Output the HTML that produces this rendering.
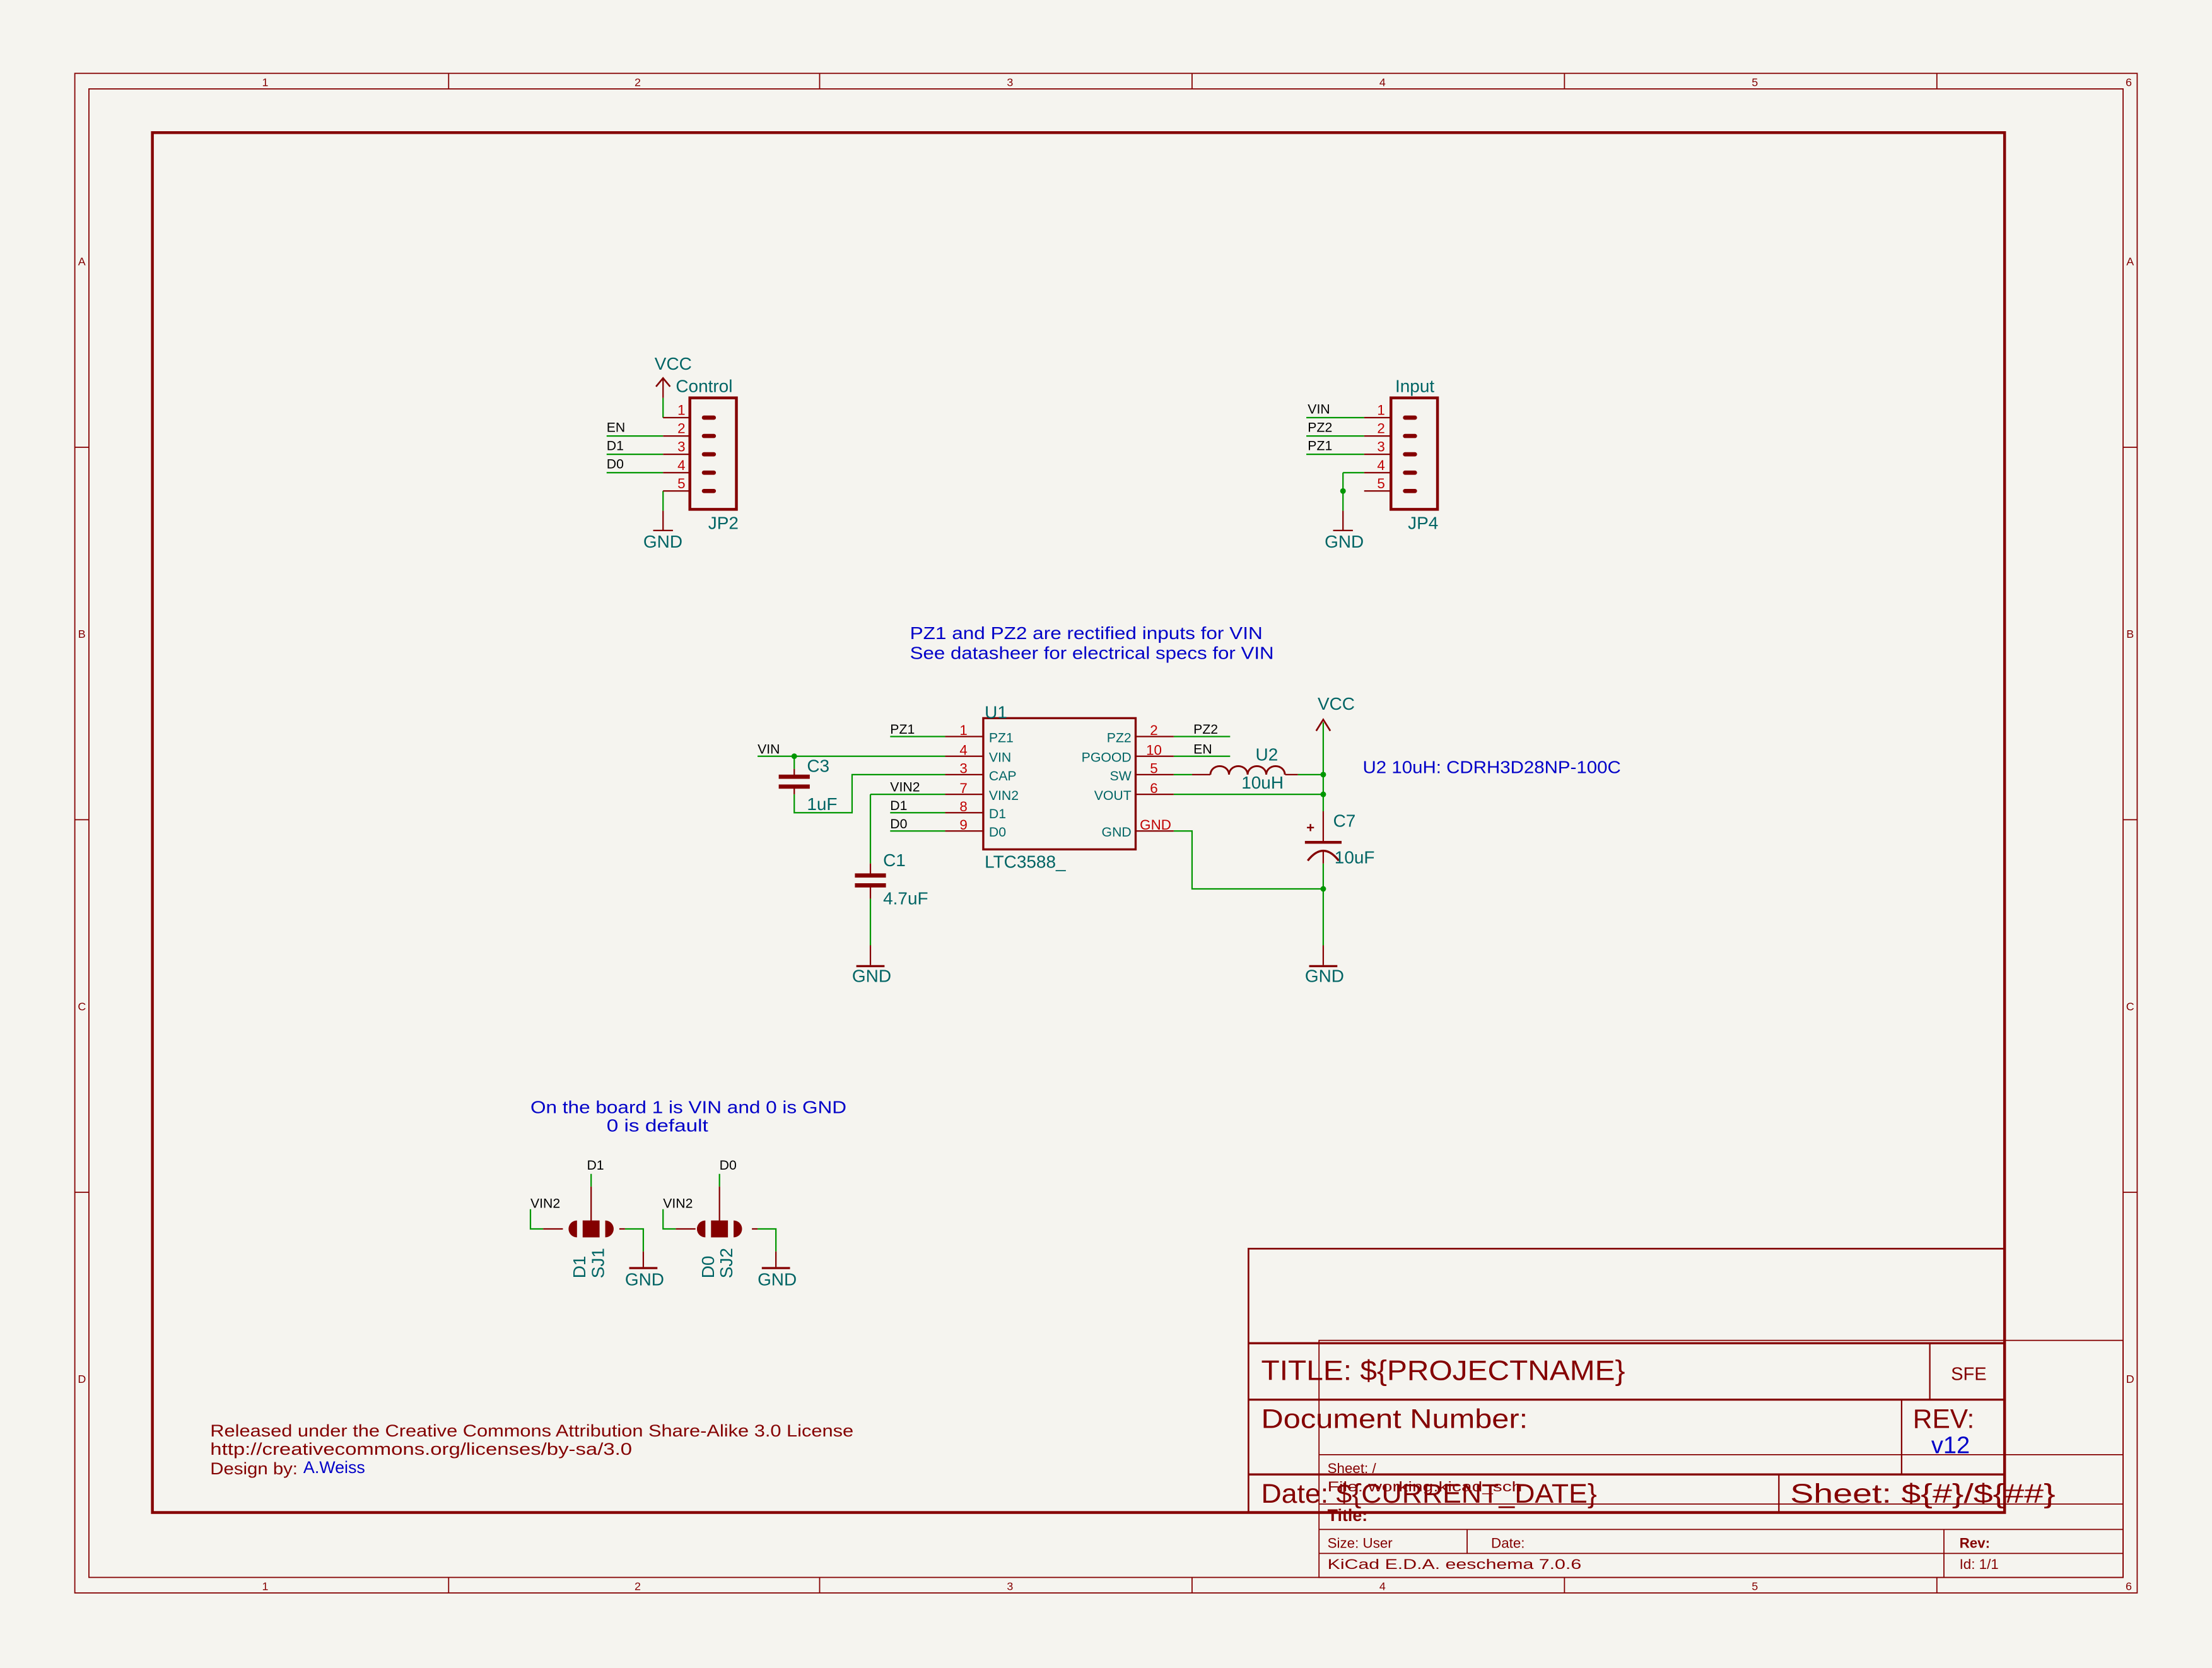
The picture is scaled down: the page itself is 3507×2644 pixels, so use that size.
<!DOCTYPE html>
<html><head><meta charset="utf-8"><style>
html,body{margin:0;padding:0;background:#f5f4ef}
svg{display:block}
text{font-family:"Liberation Sans",sans-serif}
</style></head><body>
<svg width="3507" height="2644" viewBox="0 0 1568 1182.2" xmlns="http://www.w3.org/2000/svg">
<rect width="1568" height="1183" fill="#f5f4ef"/>
<g fill="none" stroke="#840000" stroke-width="0.8">
<rect x="53" y="52" width="1462" height="1077"/>
<rect x="63" y="63" width="1442" height="1055"/>
<path d="M318 52V63M581 52V63M845 52V63M1109 52V63M1373 52V63M318 1118V1129M581 1118V1129M845 1118V1129M1109 1118V1129M1373 1118V1129M53 317H63M53 581H63M53 845H63M1505 317H1515M1505 581H1515M1505 845H1515"/>
</g>
<g fill="#840000" font-size="8" text-anchor="middle">
<text x="188" y="61">1</text><text x="452" y="61">2</text><text x="716" y="61">3</text><text x="980" y="61">4</text><text x="1244" y="61">5</text><text x="1509" y="61">6</text>
<text x="188" y="1127">1</text><text x="452" y="1127">2</text><text x="716" y="1127">3</text><text x="980" y="1127">4</text><text x="1244" y="1127">5</text><text x="1509" y="1127">6</text>
<text x="58" y="188">A</text><text x="58" y="452">B</text><text x="58" y="716">C</text><text x="58" y="980">D</text>
<text x="1510" y="188">A</text><text x="1510" y="452">B</text><text x="1510" y="716">C</text><text x="1510" y="980">D</text>
</g>
<g fill="none" stroke="#840000">
<rect x="108" y="94" width="1313" height="978" stroke-width="2"/>
<rect x="885" y="885" width="536" height="187" stroke-width="1.2"/>
<path d="M885 952H1421M885 992H1421M885 1045H1421" stroke-width="1.5"/>
<path d="M1368 952V992M1348 992V1045M1261 1045V1072" stroke-width="1"/>
<g stroke-width="0.8">
<rect x="935" y="950" width="570" height="168"/>
<path d="M935 1031H1505M935 1066H1505M935 1084H1505M935 1101H1505M1378 1084V1118M1040 1084V1101"/>
</g>
</g>
<g fill="#840000">
<text x="894" y="978" font-size="20" textLength="258" lengthAdjust="spacingAndGlyphs">TITLE:  ${PROJECTNAME}</text>
<text x="1383" y="978" font-size="13">SFE</text>
<text x="894" y="1012" font-size="19" textLength="189" lengthAdjust="spacingAndGlyphs">Document Number:</text>
<text x="1356" y="1012" font-size="19">REV:</text>
<text x="894" y="1065" font-size="19" textLength="238" lengthAdjust="spacingAndGlyphs">Date: ${CURRENT_DATE}</text>
<text x="1269" y="1065" font-size="19" textLength="188" lengthAdjust="spacingAndGlyphs">Sheet: ${#}/${##}</text>
<g font-size="10"><text x="941" y="1044">Sheet: /</text><text x="941" y="1057" textLength="138" lengthAdjust="spacingAndGlyphs">File: working.kicad_sch</text>
<text x="941" y="1078" font-weight="bold" font-size="12">Title:</text>
<text x="941" y="1097">Size: User</text><text x="1057" y="1097">Date:</text>
<text x="1389" y="1097" font-weight="bold">Rev:</text>
<text x="941" y="1112" textLength="180" lengthAdjust="spacingAndGlyphs">KiCad E.D.A.  eeschema 7.0.6</text><text x="1389" y="1112">Id: 1/1</text></g>
<g font-size="12"><text x="149" y="1018" textLength="456" lengthAdjust="spacingAndGlyphs">Released under the Creative Commons Attribution Share-Alike 3.0 License</text>
<text x="149" y="1031" textLength="299" lengthAdjust="spacingAndGlyphs">http://creativecommons.org/licenses/by-sa/3.0</text>
<text x="149" y="1045" textLength="62" lengthAdjust="spacingAndGlyphs">Design by:</text></g>
</g>
<text x="1369" y="1030" font-size="17" fill="#0000c8">v12</text>
<text x="215" y="1044" font-size="12" fill="#0000c8">A.Weiss</text>
<g fill="#0000c8" font-size="12.5">
<text x="645" y="453" textLength="250" lengthAdjust="spacingAndGlyphs">PZ1 and PZ2 are rectified inputs for VIN</text>
<text x="645" y="467" textLength="258" lengthAdjust="spacingAndGlyphs">See datasheer for electrical specs for VIN</text>
<text x="966" y="548" textLength="183" lengthAdjust="spacingAndGlyphs">U2 10uH: CDRH3D28NP-100C</text>
<text x="376" y="789" textLength="224" lengthAdjust="spacingAndGlyphs">On the board 1 is VIN and 0 is GND</text>
<text x="430" y="802" textLength="72" lengthAdjust="spacingAndGlyphs">0 is default</text>
</g>

<g stroke="#009600" stroke-width="1" fill="none">
<path d="M430 309H470M430 322H470M430 335H470M470 296V282M470 348V362"/>
<path d="M926 296H967M926 309H967M926 322H967M952 335H967M952 335V362"/>
<path d="M631 522H670M537 536H670M563 536V545M563 563V576H604V549H670M617 563H670M617 563V612M617 637V670M631 576H670M631 589H670"/>
<path d="M832 522H872M832 536H872M832 549H845M920 549H938M832 563H938M832 589H845V630H938M938 512V575M938 612V670"/>
<path d="M419 832V841M376 857V871H385M443 871H456V887M510 832V841M470 857V871H479M537 871H550V887"/>
</g>
<g stroke="#840000" stroke-width="1" fill="none">
<path d="M470 296H489M470 309H489M470 322H489M470 335H489M470 348H489M470 282V268M470 362V376M463 376H477"/>
<path d="M967 296H986M967 309H986M967 322H986M967 335H986M967 348H986M952 362V376M945 376H959"/>
<path d="M670 522H697M670 536H697M670 549H697M670 563H697M670 576H697M670 589H697M805 522H832M805 536H832M805 549H832M805 563H832M805 589H832"/>
<path d="M563 545V551M563 557V563M617 612V621M617 628V637M617 670V684M845 549H858M911 549H920M938 575V597M938 603V612M938 670V684"/>
<path d="M419 841V866M385 871H399M439 871H443M456 887V898M510 841V866M479 871H493M533 871H537M550 887V898"/>
<path d="M465 274L470 268L475 274M933 518L938 510L943 518" stroke-width="1.2"/>
<path d="M858 549a6.6 6 0 0 1 13.2 0a6.6 6 0 0 1 13.2 0a6.6 6 0 0 1 13.2 0a6.6 6 0 0 1 13.2 0" stroke-width="1.3"/>
<path d="M927 610Q938 596 949 610" stroke-width="1.5"/>
</g>
<g fill="#840000" stroke="none">
<rect x="489" y="282" width="33" height="79" fill="none" stroke="#840000" stroke-width="2"/>
<rect x="986" y="282" width="33" height="79" fill="none" stroke="#840000" stroke-width="2"/>
<rect x="697" y="509" width="108" height="93" fill="none" stroke="#840000" stroke-width="1.5"/>
<g stroke="#840000" stroke-width="3" stroke-linecap="round"><path d="M499 296H506M499 309H506M499 322H506M499 335H506M499 348H506M996 296H1003M996 309H1003M996 322H1003M996 335H1003M996 348H1003"/></g>
<rect x="552" y="549" width="22" height="3"/><rect x="552" y="556" width="22" height="3"/>
<rect x="606" y="619" width="22" height="3"/><rect x="606" y="626" width="22" height="3"/>
<rect x="925" y="596" width="26" height="2"/>
<rect x="607" y="684" width="20" height="1.5"/><rect x="928" y="684" width="20" height="1.5"/><rect x="446" y="898" width="20" height="1.5"/><rect x="540" y="898" width="20" height="1.5"/>
<path d="M409 865a6 6 0 0 0 0 12z M429 865a6 6 0 0 1 0 12z M500 865a6 6 0 0 0 0 12z M520 865a6 6 0 0 1 0 12z"/>
<rect x="413" y="865" width="12" height="12"/><rect x="504" y="865" width="12" height="12"/>
<text x="926" y="590" font-size="10" font-weight="bold">+</text>
</g>
<g fill="#009600"><circle cx="563" cy="536" r="2"/><circle cx="952" cy="348" r="2"/><circle cx="938" cy="549" r="2"/><circle cx="938" cy="563" r="2"/><circle cx="938" cy="630" r="2"/></g>

<g fill="#c00000" font-size="10" text-anchor="middle">
<text x="483" y="294">1</text><text x="483" y="307">2</text><text x="483" y="320">3</text><text x="483" y="333">4</text><text x="483" y="346">5</text>
<text x="979" y="294">1</text><text x="979" y="307">2</text><text x="979" y="320">3</text><text x="979" y="333">4</text><text x="979" y="346">5</text>
<text x="683" y="521">1</text><text x="683" y="535">4</text><text x="683" y="548">3</text><text x="683" y="562">7</text><text x="683" y="575">8</text><text x="683" y="588">9</text>
<text x="818" y="521">2</text><text x="818" y="535">10</text><text x="818" y="548">5</text><text x="818" y="562">6</text>
<text x="808" y="588" text-anchor="start">GND</text>
</g>
<g fill="#006464" font-size="9.5">
<text x="701" y="526">PZ1</text><text x="701" y="540">VIN</text><text x="701" y="553">CAP</text><text x="701" y="567">VIN2</text><text x="701" y="580">D1</text><text x="701" y="593">D0</text>
<g text-anchor="end"><text x="802" y="526">PZ2</text><text x="802" y="540">PGOOD</text><text x="802" y="553">SW</text><text x="802" y="567">VOUT</text><text x="802" y="593">GND</text></g>
</g>
<g fill="#000" font-size="9.5">
<text x="430" y="306">EN</text><text x="430" y="319">D1</text><text x="430" y="332">D0</text>
<text x="927" y="293">VIN</text><text x="927" y="306">PZ2</text><text x="927" y="319">PZ1</text>
<text x="631" y="520">PZ1</text><text x="537" y="534">VIN</text><text x="631" y="561">VIN2</text><text x="631" y="574">D1</text><text x="631" y="587">D0</text>
<text x="846" y="520">PZ2</text><text x="846" y="534">EN</text>
<text x="416" y="829">D1</text><text x="376" y="856">VIN2</text><text x="510" y="829">D0</text><text x="470" y="856">VIN2</text>
</g>
<g fill="#006464" font-size="12.5">
<text x="464" y="262">VCC</text><text x="479" y="278">Control</text><text x="502" y="375">JP2</text><text x="456" y="388">GND</text>
<text x="989" y="278">Input</text><text x="998" y="375">JP4</text><text x="939" y="388">GND</text>
<text x="698" y="509">U1</text><text x="698" y="615">LTC3588_</text>
<text x="572" y="547">C3</text><text x="572" y="574">1uF</text>
<text x="626" y="614">C1</text><text x="626" y="641">4.7uF</text>
<text x="604" y="696">GND</text><text x="925" y="696">GND</text>
<text x="934" y="503">VCC</text><text x="890" y="539">U2</text><text x="880" y="559">10uH</text>
<text x="945" y="586">C7</text><text x="946" y="612">10uF</text>
<text x="443" y="911">GND</text><text x="537" y="911">GND</text>
<text transform="translate(415,906) rotate(-90)">D1</text><text transform="translate(428,906) rotate(-90)">SJ1</text>
<text transform="translate(506,906) rotate(-90)">D0</text><text transform="translate(519,906) rotate(-90)">SJ2</text>
</g>
</svg>
</body></html>
